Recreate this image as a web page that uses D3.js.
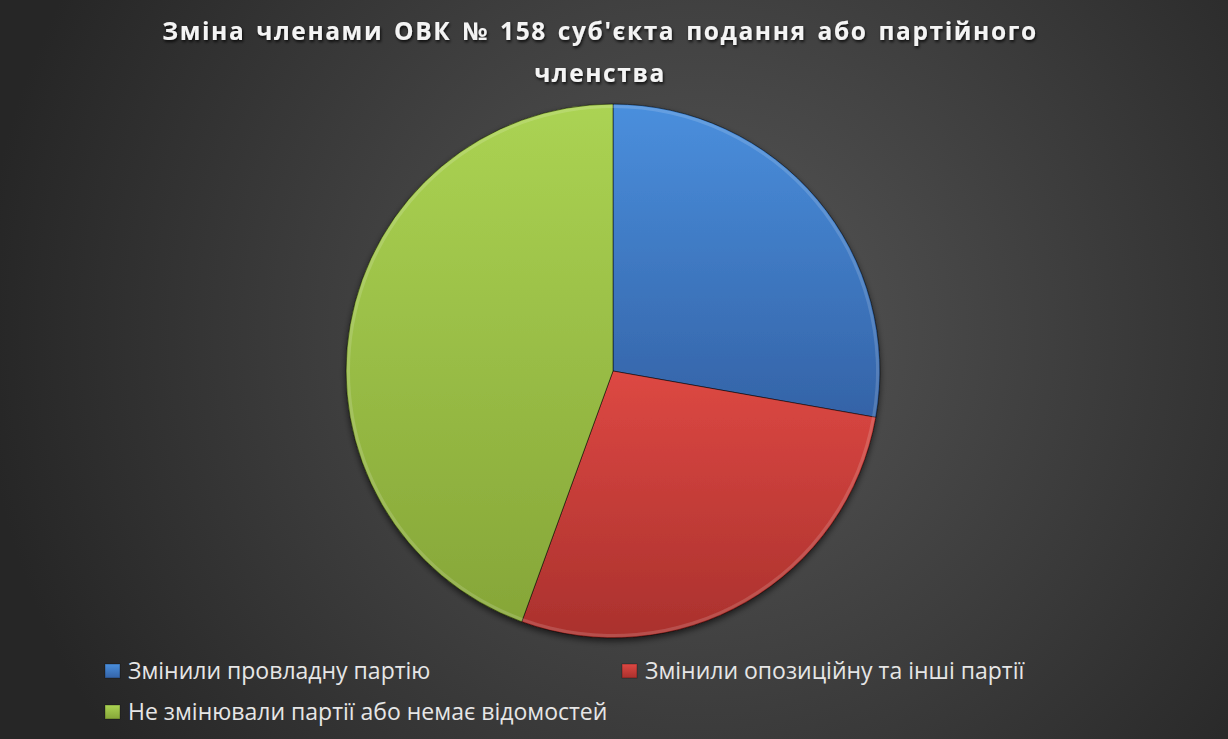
<!DOCTYPE html>
<html>
<head>
<meta charset="utf-8">
<script src="https://cdn.jsdelivr.net/npm/d3@7"></script>
<style>
  body { margin: 0; background: #2b2b2b; }
  svg { display: block; }
</style>
</head>
<body>
<svg width="1228" height="739"></svg>
<script>
// chart data
var categories = ["Змінили провладну партію", "Змінили опозиційну та інші партії", "Не змінювали партії або немає відомостей"];
var values = [5, 5, 8];
var colorsTop = ["#4a8fdd", "#dd4843", "#abd353"];
var colorsBottom = ["#3463a7", "#aa312d", "#86a638"];
var titleLines = ["Зміна членами ОВК № 158 суб'єкта подання або партійного", "членства"];

var svg = d3.select("svg"),
    width = +svg.attr("width"),
    height = +svg.attr("height"),
    cx = 613, cy = 371, radius = 267;

var defs = svg.append("defs");

// background radial gradient
var bg = defs.append("radialGradient")
    .attr("id", "bg").attr("gradientUnits", "userSpaceOnUse")
    .attr("cx", 700).attr("cy", 330).attr("r", 720);
bg.append("stop").attr("offset", "0%").attr("stop-color", "#575757");
bg.append("stop").attr("offset", "100%").attr("stop-color", "#262626");

svg.append("rect").attr("width", width).attr("height", height).attr("fill", "url(#bg)");

// gradients for slices and legend markers (per bounding box, top to bottom)
categories.forEach(function(c, i) {
  var g = defs.append("linearGradient")
      .attr("id", "slice" + i).attr("x1", 0).attr("y1", 0).attr("x2", 0).attr("y2", 1);
  g.append("stop").attr("offset", "0%").attr("stop-color", colorsTop[i]);
  g.append("stop").attr("offset", "100%").attr("stop-color", colorsBottom[i]);
});

var shadow = defs.append("filter").attr("id", "tshadow")
    .attr("x", "-5%").attr("y", "-30%").attr("width", "110%").attr("height", "160%");
shadow.append("feDropShadow").attr("dx", 1).attr("dy", 2).attr("stdDeviation", 1.5)
    .attr("flood-color", "#000").attr("flood-opacity", 0.8);

var pshadow = defs.append("filter").attr("id", "pshadow")
    .attr("x", "-10%").attr("y", "-10%").attr("width", "120%").attr("height", "120%");
pshadow.append("feDropShadow").attr("dx", 0).attr("dy", 3).attr("stdDeviation", 3)
    .attr("flood-color", "#000").attr("flood-opacity", 0.6);

// title
svg.append("g").selectAll("text")
  .data(titleLines)
  .enter().append("text")
    .attr("x", 600)
    .attr("y", function(d, i) { return 40 + i * 42; })
    .attr("text-anchor", "middle")
    .attr("fill", "#f4f4f4")
    .attr("font-family", "'Open Sans', sans-serif")
    .attr("font-weight", "bold")
    .attr("font-size", "24.5px")
    .attr("letter-spacing", "1.6px")
    .attr("word-spacing", "3px")
    .attr("filter", "url(#tshadow)")
    .text(function(d) { return d; });

// pie
var pie = d3.pie().sort(null).value(function(d) { return d; });
var arc = d3.arc().innerRadius(0).outerRadius(radius);
var arcs = pie(values);

var g = svg.append("g")
    .attr("transform", "translate(" + cx + "," + cy + ")")
    .attr("filter", "url(#pshadow)");

g.selectAll(".slice")
  .data(arcs)
  .enter().append("path")
    .attr("class", "slice")
    .attr("d", arc)
    .attr("fill", function(d, i) { return "url(#slice" + i + ")"; })
    .attr("stroke", "rgba(0,0,0,0.5)")
    .attr("stroke-width", 1);

// bevel highlight along outer edges
g.selectAll(".bevel")
  .data(arcs)
  .enter().append("path")
    .attr("class", "bevel")
    .attr("d", d3.arc().innerRadius(radius - 4).outerRadius(radius - 1))
    .attr("fill", "rgba(255,255,255,0.15)");

// legend
var legendPos = [[105, 671], [622, 671], [105, 712]];
var legend = svg.append("g").selectAll(".item")
  .data(categories)
  .enter().append("g")
    .attr("class", "item")
    .attr("transform", function(d, i) { return "translate(" + legendPos[i][0] + "," + legendPos[i][1] + ")"; });

legend.append("rect")
    .attr("x", 0).attr("y", -7).attr("width", 15).attr("height", 14)
    .attr("fill", function(d, i) { return "url(#slice" + i + ")"; })
    .attr("stroke", "rgba(0,0,0,0.3)");

legend.append("text")
    .attr("x", 23).attr("y", 0).attr("dy", "0.35em")
    .attr("fill", "#e6e6e6")
    .attr("font-family", "'Open Sans', sans-serif")
    .attr("font-size", "23px")
    .text(function(d) { return d; });
</script>
</body>
</html>
